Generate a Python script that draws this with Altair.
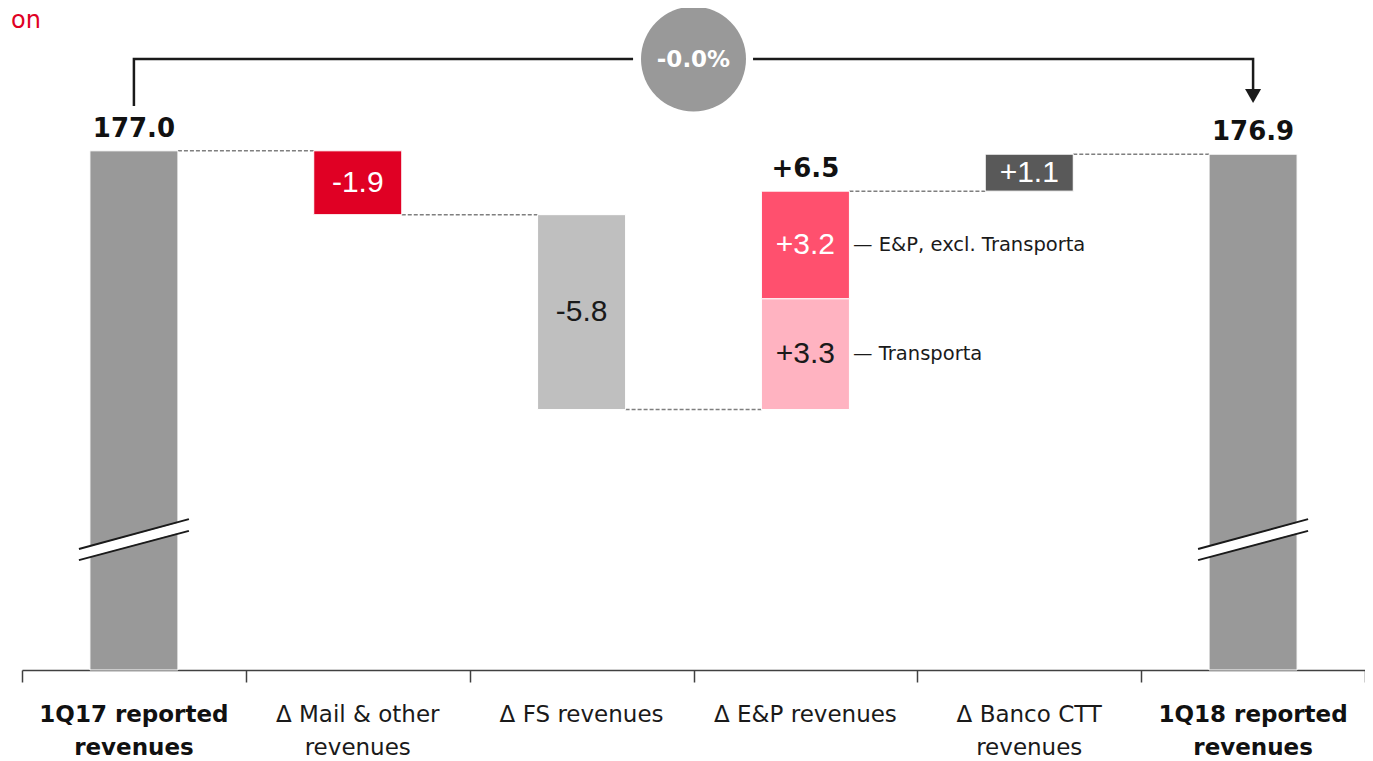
import altair as alt
import pandas as pd

# ---------------- data ----------------
categories = ["1Q17 reported\nrevenues", "Δ Mail & other\nrevenues", "Δ FS revenues",
              "Δ E&P revenues", "Δ Banco CTT\nrevenues", "1Q18 reported\nrevenues"]
bold_category = [True, False, False, False, False, True]
start_total = 177.0
end_total = 176.9
deltas = [-1.9, -5.8, 6.5, 1.1]            # Mail & other, FS, E&P, Banco CTT
ep_parts = [3.3, 3.2]                       # Transporta, E&P excl. Transporta
ep_part_names = ["— Transporta", "— E&P, excl. Transporta"]
change_label = "-0.0%"
unit_label = "on"
axis_floor = 161.55                          # broken-axis floor of the value scale
axis_top = 181.25

# ---------------- styles ----------------
TOTAL = "#999999"
delta_colors = ["#E00024", "#BFBFBF", None, "#595959"]
delta_label_colors = ["white", "#1a1a1a", None, "white"]
ep_colors = ["#FFB3C1", "#FF506E"]
ep_label_colors = ["#1a1a1a", "white"]
HW = 0.1966          # half bar width in category units
FONT = "DejaVu Sans"

# ---------------- derived tables ----------------
rows = [dict(x=0.5, y0=axis_floor, y1=start_total, color=TOTAL, label="", lc="white")]
running = start_total
levels = [start_total]
for i, d in enumerate(deltas):
    cx = i + 1.5
    if delta_colors[i] is None:
        base = running
        for part, col, lc in zip(ep_parts, ep_colors, ep_label_colors):
            rows.append(dict(x=cx, y0=base, y1=round(base + part, 2), color=col,
                             label=f"{part:+.1f}", lc=lc))
            base = round(base + part, 2)
    else:
        rows.append(dict(x=cx, y0=running, y1=round(running + d, 2), color=delta_colors[i],
                         label=f"{d:+.1f}", lc=delta_label_colors[i]))
    running = round(running + d, 2)
    levels.append(running)
rows.append(dict(x=5.5, y0=axis_floor, y1=end_total, color=TOTAL, label="", lc="white"))
bars = pd.DataFrame(rows)
bars["x0"] = bars["x"] - HW
bars["x1"] = bars["x"] + HW
bars["ym"] = (bars["y0"] + bars["y1"]) / 2

conn = pd.DataFrame([dict(x0=i + 0.5 + HW, x1=i + 1.5 - HW, y=lv) for i, lv in enumerate(levels)])

top_labels = pd.DataFrame([
    dict(x=0.5, y=start_total, t=f"{start_total:.1f}"),
    dict(x=3.5, y=levels[3], t=f"{deltas[2]:+.1f}"),
    dict(x=5.5, y=end_total, t=f"{end_total:.1f}"),
])

ep_base = levels[2]
ann = pd.DataFrame([
    dict(x=3.713, y=ep_base + ep_parts[0] / 2, t=ep_part_names[0]),
    dict(x=3.713, y=ep_base + ep_parts[0] + ep_parts[1] / 2, t=ep_part_names[1]),
])

bracket_y = 179.73
bracket = pd.DataFrame([
    dict(seg="a", o=0, x=0.5, y=178.33), dict(seg="a", o=1, x=0.5, y=bracket_y),
    dict(seg="a", o=2, x=2.73, y=bracket_y),
    dict(seg="b", o=0, x=3.266, y=bracket_y), dict(seg="b", o=1, x=5.5, y=bracket_y),
    dict(seg="b", o=2, x=5.5, y=178.75),
])
arrow = pd.DataFrame([dict(x=5.5, y=178.63)])
circle = pd.DataFrame([dict(x=3.0, y=bracket_y, t=change_label)])

brk = []
for cx in (0.5, 5.5):
    for name, ya, yb in (("w", 164.985, 165.865), ("l1", 165.15, 166.04), ("l2", 164.82, 165.69)):
        brk.append(dict(g=f"{cx}{name}", kind=name, o=0, x=cx - 0.2457, y=ya))
        brk.append(dict(g=f"{cx}{name}", kind=name, o=1, x=cx + 0.2457, y=yb))
brk = pd.DataFrame(brk)

cats = pd.DataFrame(dict(x=[i + 0.5 for i in range(6)], y=[axis_floor] * 6,
                         t=categories, b=bold_category))
unit = pd.DataFrame([dict(x=0.0, y=axis_top, t=unit_label)])

# ---------------- encodings ----------------
xs = alt.Scale(domain=[0, 6], nice=False, zero=False)
ys = alt.Scale(domain=[axis_floor, axis_top], nice=False, zero=False)
X = lambda f: alt.X(f, type="quantitative", scale=xs,
                    axis=alt.Axis(values=[0, 1, 2, 3, 4, 5, 6], labels=False, title=None,
                                  tickSize=12, grid=False, domainColor="#404040",
                                  tickColor="#404040", domainWidth=1.5, tickWidth=1.5))
Y = lambda f: alt.Y(f, type="quantitative", scale=ys, axis=None)

connectors = alt.Chart(conn).mark_rule(color="#7f7f7f", strokeDash=[4, 2], strokeWidth=1.5).encode(
    x=X("x0"), x2="x1", y=Y("y"))

bar_layer = alt.Chart(bars).mark_bar(stroke="white", strokeWidth=1).encode(
    x=X("x0"), x2="x1", y=Y("y0"), y2="y1", color=alt.Color("color:N", scale=None))

break_band = alt.Chart(brk[brk.kind == "w"]).mark_line(color="white", strokeWidth=10).encode(
    x=X("x"), y=Y("y"), detail="g:N", order="o:Q")
break_lines = alt.Chart(brk[brk.kind != "w"]).mark_line(color="#1a1a1a", strokeWidth=2).encode(
    x=X("x"), y=Y("y"), detail="g:N", order="o:Q")

bar_text = alt.Chart(bars[bars.label != ""]).mark_text(
    font="Liberation Sans", fontSize=30, baseline="middle", align="center").encode(
    x=X("x"), y=Y("ym"), text="label:N", color=alt.Color("lc:N", scale=None))

top_text = alt.Chart(top_labels).mark_text(
    font=FONT, fontSize=26, fontWeight="bold", baseline="alphabetic", align="center",
    dy=-14, color="#111111").encode(x=X("x"), y=Y("y"), text="t:N")

ann_text = alt.Chart(ann).mark_text(
    font=FONT, fontSize=19.5, baseline="middle", align="left", color="#1a1a1a").encode(
    x=X("x"), y=Y("y"), text="t:N")

bracket_line = alt.Chart(bracket).mark_line(color="#1a1a1a", strokeWidth=2.5,
                                            strokeJoin="miter").encode(
    x=X("x"), y=Y("y"), detail="seg:N", order="o:Q")
arrow_head = alt.Chart(arrow).mark_point(shape="triangle-down", filled=True, size=256,
                                         color="#1a1a1a", opacity=1).encode(x=X("x"), y=Y("y"))
circle_mark = alt.Chart(circle).mark_point(shape="circle", filled=True, size=11025,
                                           color=TOTAL, opacity=1).encode(x=X("x"), y=Y("y"))
circle_text = alt.Chart(circle).mark_text(font=FONT, fontSize=23, fontWeight="bold",
                                          color="white", baseline="middle", dy=1).encode(
    x=X("x"), y=Y("y"), text="t:N")

cat_bold = alt.Chart(cats[cats.b]).mark_text(
    font=FONT, fontSize=23, fontWeight="bold", lineBreak="\n", lineHeight=33,
    baseline="alphabetic", align="center", dy=52, color="#111111").encode(
    x=X("x"), y=Y("y"), text="t:N")
cat_reg = alt.Chart(cats[~cats.b]).mark_text(
    font=FONT, fontSize=23, lineBreak="\n", lineHeight=33,
    baseline="alphabetic", align="center", dy=52, color="#1a1a1a").encode(
    x=X("x"), y=Y("y"), text="t:N")

unit_text = alt.Chart(unit).mark_text(font=FONT, fontSize=24, color="#E00024",
                                      align="left", baseline="alphabetic",
                                      dx=-11, dy=20).encode(x=X("x"), y=Y("y"), text="t:N")

chart = alt.layer(
    connectors, bar_layer, break_band, break_lines, bar_text, top_text, ann_text,
    bracket_line, arrow_head, circle_mark, circle_text, cat_bold, cat_reg, unit_text
).properties(
    width=1343, height=662,
    padding={"left": 14, "top": 0, "right": 0, "bottom": 90},
    autosize=alt.AutoSizeParams(type="none"),
    background="white",
).configure_view(strokeWidth=0, stroke="transparent")

chart.save("out.html", embed_options={"renderer": "svg", "actions": False})
